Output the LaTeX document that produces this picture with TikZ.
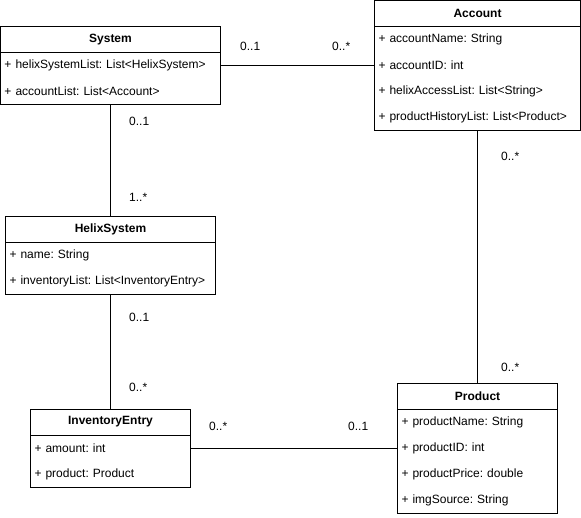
\documentclass[tikz,border=0pt]{standalone}
\usepackage{fontspec}
\setmainfont{Liberation Sans}
\frenchspacing
\usetikzlibrary{positioning}

\tikzset{
    classhead/.style={draw, line width=1pt, anchor=north west, minimum width=#1, minimum height=26pt, inner sep=0pt, outer sep=0pt, font=\fontsize{12}{14}\selectfont\bfseries},
    classrow/.style={text width=#1, minimum height=26pt, inner xsep=4pt, inner ysep=0pt, outer sep=0pt, align=left, font=\fontsize{12}{14}\selectfont},
    mult/.style={anchor=west, inner sep=0pt, font=\fontsize{12}{14}\selectfont},
    assoc/.style={line width=1pt}
}

\begin{document}
\begin{tikzpicture}[x=1pt, y=-1pt]
    \useasboundingbox (0,0) rectangle (581,517);

    % System
    \node[classhead=220pt] (syshead) at (0.5,26.5) {System};
    \node[classrow=212pt, below=0pt of syshead] (sysrow1) {+ helixSystemList: List<HelixSystem>};
    \node[classrow=212pt, below=0pt of sysrow1] (sysrow2) {+ accountList: List<Account>};
    \draw[assoc] (syshead.north west) rectangle (sysrow2.south east);

    % Account
    \node[classhead=206pt] (acchead) at (374.5,0.5) {Account};
    \node[classrow=198pt, below=0pt of acchead] (accrow1) {+ accountName: String};
    \node[classrow=198pt, below=0pt of accrow1] (accrow2) {+ accountID: int};
    \node[classrow=198pt, below=0pt of accrow2] (accrow3) {+ helixAccessList: List<String>};
    \node[classrow=198pt, below=0pt of accrow3] (accrow4) {+ productHistoryList: List<Product>};
    \draw[assoc] (acchead.north west) rectangle (accrow4.south east);

    % HelixSystem
    \node[classhead=210pt] (helixhead) at (5.5,216) {HelixSystem};
    \node[classrow=202pt, below=0pt of helixhead] (helixrow1) {+ name: String};
    \node[classrow=202pt, below=0pt of helixrow1] (helixrow2) {+ inventoryList: List<InventoryEntry>};
    \draw[assoc] (helixhead.north west) rectangle (helixrow2.south east);

    % InventoryEntry
    \node[classhead=160pt] (invhead) at (30.5,409) {InventoryEntry};
    \node[classrow=152pt, below=0pt of invhead] (invrow1) {+ amount: int};
    \node[classrow=152pt, below=0pt of invrow1] (invrow2) {+ product: Product};
    \draw[assoc] (invhead.north west) rectangle (invrow2.south east);

    % Product
    \node[classhead=160pt] (prodhead) at (397.5,383) {Product};
    \node[classrow=152pt, below=0pt of prodhead] (prodrow1) {+ productName: String};
    \node[classrow=152pt, below=0pt of prodrow1] (prodrow2) {+ productID: int};
    \node[classrow=152pt, below=0pt of prodrow2] (prodrow3) {+ productPrice: double};
    \node[classrow=152pt, below=0pt of prodrow3] (prodrow4) {+ imgSource: String};
    \draw[assoc] (prodhead.north west) rectangle (prodrow4.south east);

    % Associations
    \draw[assoc] (sysrow1.east) -- (accrow2.west);
    \draw[assoc] (sysrow2.south) -- (sysrow2.south |- helixhead.north);
    \draw[assoc] (accrow4.south) -- (accrow4.south |- prodhead.north);
    \draw[assoc] (helixrow2.south) -- (helixrow2.south |- invhead.north);
    \draw[assoc] (invrow1.east) -- (prodrow2.west);

    % Multiplicities
    \node[mult] (m1) at (240,46) {0..1};
    \node[mult] (m2) at (332,46) {0..*};
    \node[mult] (m3) at (129,121) {0..1};
    \node[mult] (m4) at (129,197) {1..*};
    \node[mult] (m5) at (501,156) {0..*};
    \node[mult] (m6) at (501,367) {0..*};
    \node[mult] (m7) at (129,317) {0..1};
    \node[mult] (m8) at (129,387) {0..*};
    \node[mult] (m9) at (209,426) {0..*};
    \node[mult] (m10) at (348,426) {0..1};
\end{tikzpicture}
\end{document}
